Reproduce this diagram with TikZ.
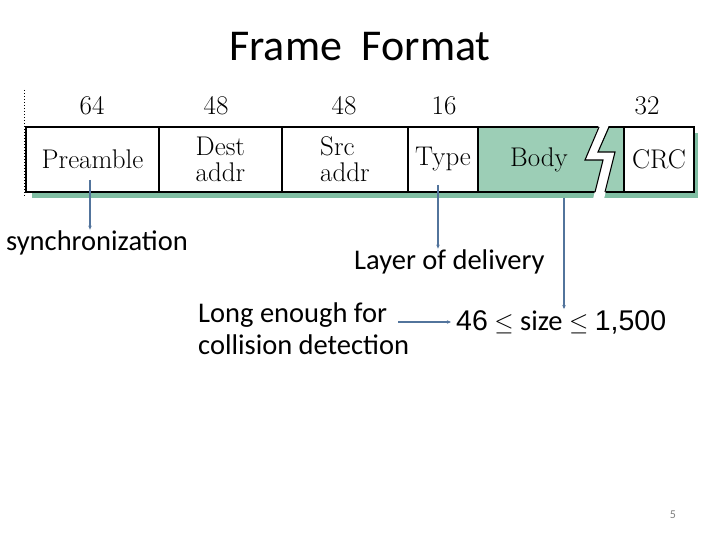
\documentclass[tikz,border=0pt]{standalone}
\usepackage{fontspec}
\newfontfamily\slidefont{Carlito}
\newfontfamily\numfont{Liberation Sans}
\usepackage{tikz}
\usetikzlibrary{positioning, arrows.meta, calc}
\usepackage{xcolor}
\definecolor{bodygreen}{RGB}{156,206,182}
\definecolor{shadowgreen}{RGB}{128,190,163}
\definecolor{arrowblue}{RGB}{82,116,156}

\begin{document}
\begin{tikzpicture}[x=1pt, y=-1pt,
  field/.style={draw, line width=1.1pt, fill=white, minimum height=65pt, inner sep=0pt,
    align=left, font=\fontsize{27}{26}\selectfont},
  bits/.style={font=\fontsize{27}{24}\selectfont},
  note/.style={font=\slidefont\fontsize{28.5}{32}\selectfont, align=left, inner sep=1pt},
  pointer/.style={-{Stealth[length=4pt, width=3.5pt]}, arrowblue, line width=1.2pt}]
\useasboundingbox (0,0) rectangle (720,540);

% Title
\node[font=\slidefont\fontsize{44}{48}\selectfont] (title) at (360,47) {Frame\ \ Format};

% Bit counts
\node[bits] (b64) at (92,106) {64};
\node[bits] (b48a) at (216,106) {48};
\node[bits] (b48b) at (344,106) {48};
\node[bits] (b16) at (444,106) {16};
\node[bits] (b32) at (647,106) {32};

% Frame
\fill[shadowgreen] (32,133) rectangle (698,198);
\draw[dash pattern=on 1.5pt off 1.5pt, line width=0.8pt] (24,90) -- (24,197);
\node[field, minimum width=133pt] (pre) at (92.5,159.5) {Preamble};
\node[field, minimum width=123pt] (dest) at (220.5,159.5) {Dest\\addr};
\node[field, minimum width=126pt] (src) at (345,159.5) {Src\\addr};
\node[field, minimum width=70pt] (type) at (443,159.5) {Type};
\node[field, fill=bodygreen, minimum width=146pt] (body) at (551,159.5) {};
\node[field, draw=none, fill=none] (bodytext) at (539,159.5) {Body};
\node[field, minimum width=70pt] (crc) at (659,159.5) {CRC};

% Break in the body
\fill[white] (599,125) -- (585,160) -- (603,160) -- (593,199) -- (604,199)
  -- (615,152) -- (598,152) -- (609,125) -- cycle;
\draw[line width=1.1pt] (599,127) -- (585,160) -- (603,160) -- (595,192);
\draw[line width=1.1pt] (609,127) -- (598,152) -- (615,152) -- (605,192);

% Notes
\node[note, anchor=west] (sync) at (5,243) {synchronization};
\node[note, anchor=west] (layer) at (353,262) {Layer of delivery};
\node[note, anchor=north west] (long) at (197,302) {Long enough for\\collision detection};
\node[note, anchor=west] (size) at (455,322)
  {{\numfont 46} \(\leq\) size \(\leq\) {\numfont 1,500}};
\node[font=\slidefont\fontsize{12}{14}\selectfont, text=gray] (page) at (673,515) {5};

% Pointers
\coordinate (preTap) at (90,180);
\coordinate (typeTap) at (438,185);
\coordinate (bodyTap) at (564,198);
\draw[pointer] (preTap) -- (preTap |- sync.north);
\draw[pointer] (typeTap) -- (typeTap |- layer.north);
\draw[pointer] (bodyTap) -- (bodyTap |- size.north);
\draw[pointer, shorten >=4pt] ([xshift=-12pt]long.east |- size.west) -- (size.west);
\end{tikzpicture}
\end{document}
